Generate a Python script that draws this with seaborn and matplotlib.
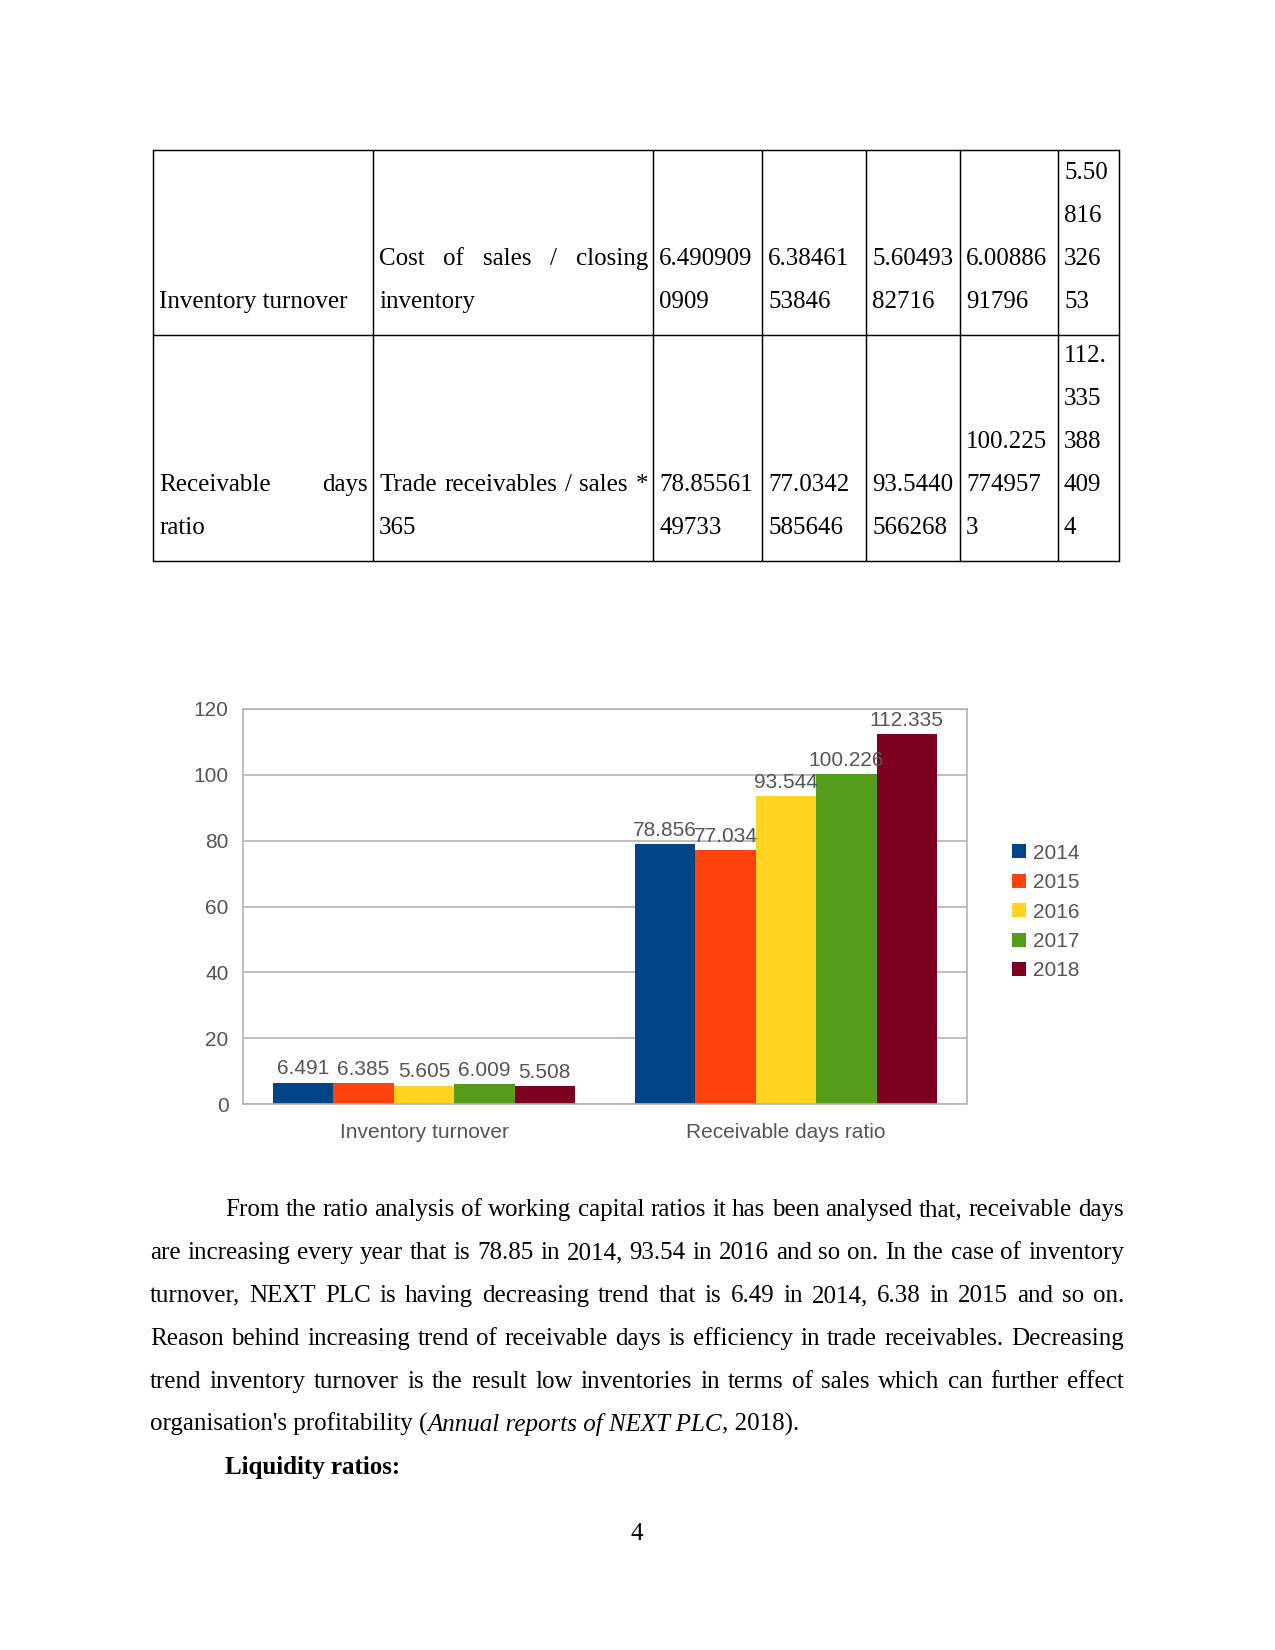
import matplotlib
matplotlib.use("Agg")
import matplotlib.pyplot as plt
from matplotlib.lines import Line2D
import seaborn as sns
import pandas as pd

# chart data
metrics = ["Inventory turnover", "Receivable days ratio"]
years = ["2014", "2015", "2016", "2017", "2018"]
inventory_turnover = [6.4909090909, 6.3846153846, 5.6049382716, 6.0088691796, 5.5081632653]
receivable_days = [78.8556149733, 77.0342585646, 93.5440566268, 100.2257749573, 112.3353884094]
y_ticks = [0, 20, 40, 60, 80, 100, 120]
year_colors = ["#004586", "#ff420e", "#ffd320", "#579d1c", "#7e0021"]

# table text, each cell as its wrapped lines
row_labels = [["Inventory turnover"], ["Receivable days", "ratio"]]
row_formulas = [["Cost of sales / closing", "inventory"],
                ["Trade receivables / sales *", "365"]]
inventory_cells = [["6.490909", "0909"], ["6.38461", "53846"], ["5.60493", "82716"],
                   ["6.00886", "91796"], ["5.50", "816", "326", "53"]]
receivable_cells = [["78.85561", "49733"], ["77.0342", "585646"], ["93.5440", "566268"],
                    ["100.225", "774957", "3"], ["112.", "335", "388", "409", "4"]]

paragraph = [
    "From the ratio analysis of working capital ratios it has been analysed that, receivable days",
    "are increasing every year that is 78.85 in 2014, 93.54 in 2016 and so on. In the case of inventory",
    "turnover, NEXT PLC is having decreasing trend that is 6.49 in 2014, 6.38 in 2015 and so on.",
    "Reason behind increasing trend of receivable days is efficiency in trade receivables. Decreasing",
    "trend inventory turnover is the result low inventories in terms of sales which can further effect",
]
last_line = ["organisation's profitability (", "Annual reports of NEXT PLC", ", 2018)."]
heading = "Liquidity ratios:"
page_number = "4"

sns.set_style("white")
plt.rcParams["font.family"] = ["Liberation Serif", "DejaVu Serif"]

fig = plt.figure(figsize=(8.5, 11), dpi=150)
page = fig.add_axes([0, 0, 1, 1])
page.set_xlim(0, 1275)
page.set_ylim(1650, 0)
page.axis("off")
renderer = fig.canvas.get_renderer()

SERIF = dict(fontsize=12, family=["Liberation Serif", "DejaVu Serif"], color="black")


def draw_line(text, x0, x1, y, justify=False, **kw):
    style = {**SERIF, **kw}
    words = text.split()
    if not justify or len(words) < 2:
        page.text(x0, y, text, va="baseline", ha="left", **style)
        return
    arts = [page.text(x0, y, w, va="baseline", ha="left", **style) for w in words]
    widths = [a.get_window_extent(renderer).width for a in arts]
    gap = (x1 - x0 - sum(widths)) / (len(words) - 1)
    x = x0
    for a, w in zip(arts, widths):
        a.set_x(x)
        x += w + gap


# table
col_x = [153, 373, 653, 762, 866, 960, 1058, 1119]
row_y = [150, 335, 561]
pitch = 43
for x in col_x:
    page.add_line(Line2D([x, x], [row_y[0], row_y[-1]], color="black", lw=0.7))
for y in row_y:
    page.add_line(Line2D([col_x[0], col_x[-1]], [y, y], color="black", lw=0.7))

rows = [[row_labels[0], row_formulas[0]] + inventory_cells,
        [row_labels[1], row_formulas[1]] + receivable_cells]
for r, cells in enumerate(rows):
    bottom = row_y[r + 1] - 27
    for c, lines in enumerate(cells):
        x0, x1 = col_x[c] + 6, col_x[c + 1] - 5
        n = len(lines)
        for i, line in enumerate(lines):
            y = bottom - (n - 1 - i) * pitch
            draw_line(line, x0, x1, y, justify=(i < n - 1))

# paragraph
left, right, indent = 150, 1124, 225
base = 1216
for i, line in enumerate(paragraph):
    draw_line(line, indent if i == 0 else left, right, base + i * pitch, justify=True)
x = left
y = base + len(paragraph) * pitch
for j, piece in enumerate(last_line):
    t = page.text(x, y, piece, va="baseline", ha="left",
                  style="italic" if j == 1 else "normal", **SERIF)
    x += t.get_window_extent(renderer).width
page.text(indent, base + (len(paragraph) + 1) * pitch, heading, va="baseline",
          ha="left", fontweight="bold", **SERIF)
page.text(637, 1540, page_number, va="baseline", ha="center", **SERIF)

# chart
df = pd.DataFrame({
    "metric": [m for m in metrics for _ in years],
    "year": years * 2,
    "value": inventory_turnover + receivable_days,
})
sans = ["Liberation Sans", "DejaVu Sans"]
ax = fig.add_axes([243 / 1275, 1 - 1104 / 1650, 724 / 1275, 395 / 1650])
sns.barplot(data=df, x="metric", y="value", hue="year", palette=year_colors,
            width=0.834, gap=0, saturation=1, linewidth=0, edgecolor="none", ax=ax)
ax.set_xlim(-0.5, 1.5)
ax.set_ylim(0, 120)
ax.set_yticks(y_ticks)
ax.set_xlabel("")
ax.set_ylabel("")
ax.yaxis.grid(True, color="#b3b3b3", lw=0.8)
ax.set_axisbelow(True)
for s in ax.spines.values():
    s.set_color("#b3b3b3")
    s.set_linewidth(0.8)
ax.set_xticks([-0.5, 0.5, 1.5], minor=True)
ax.tick_params(axis="x", which="minor", length=3, color="#b3b3b3", width=0.8)
ax.tick_params(axis="x", which="major", length=0, pad=9)
ax.tick_params(axis="y", length=3, color="#b3b3b3", width=0.8, pad=4)
for lab in ax.get_xticklabels() + ax.get_yticklabels():
    lab.set_fontfamily(sans)
    lab.set_fontsize(10)
    lab.set_color("#555555")

for cont in ax.containers:
    labs = ax.bar_label(cont, fmt="%.3f", padding=2, fontsize=10, color="#555555")
    for t in labs:
        t.set_fontfamily(sans)

handles, labels = ax.get_legend_handles_labels()
leg = ax.legend(handles, labels, loc="center left",
                bbox_to_anchor=(1002 / 1275, 1 - 912 / 1650), bbox_transform=fig.transFigure,
                frameon=False, prop={"family": sans, "size": 10},
                handlelength=0.65, handleheight=0.65, handletextpad=0.35,
                labelspacing=0.5, borderpad=0, labelcolor="#555555")

fig.savefig("out.png", dpi=150)
